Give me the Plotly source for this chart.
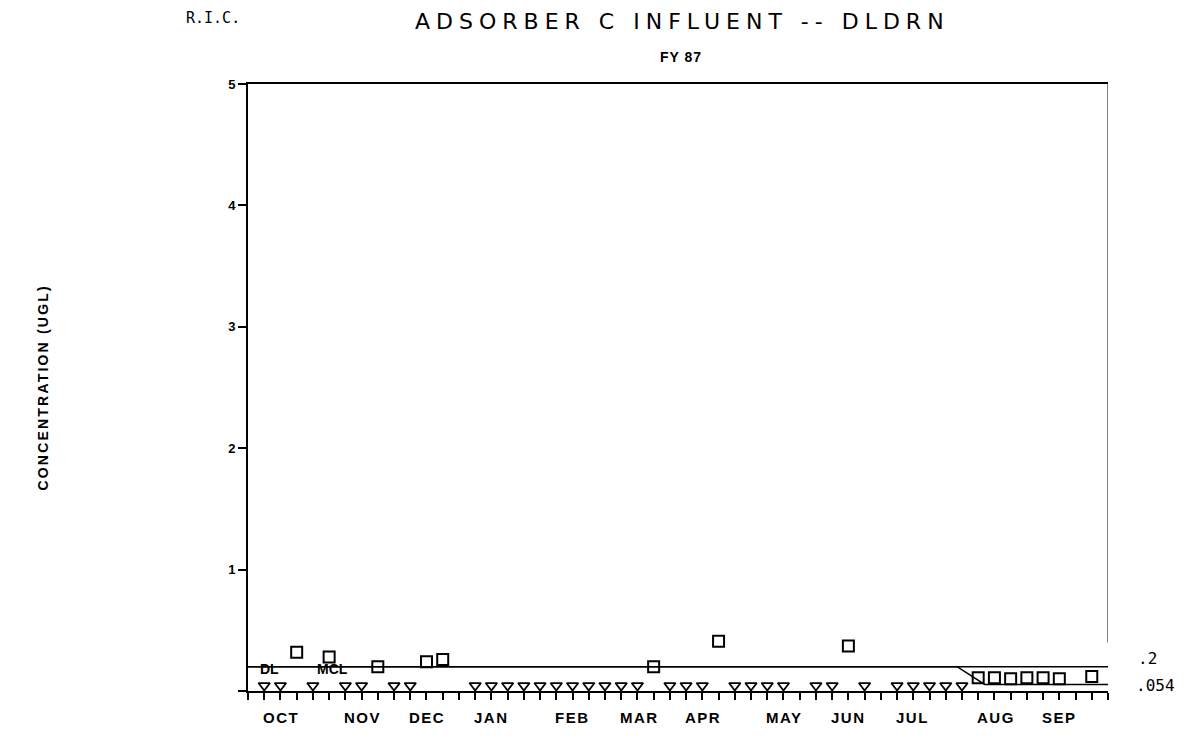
import plotly.graph_objects as go

# x axis is in weeks from the start of FY 87 (0 = start of Oct, 53 = end of Sep)
month_names = ['OCT', 'NOV', 'DEC', 'JAN', 'FEB', 'MAR', 'APR', 'MAY', 'JUN', 'JUL', 'AUG', 'SEP']
month_weeks = [1, 6, 10, 14, 19, 23, 27, 32, 36, 40, 45, 49]
all_weeks = list(range(0, 54))

# samples below detection limit (triangles)
nd_weeks = [1, 2, 4, 6, 7, 9, 10,
            14, 15, 16, 17, 18, 19, 20, 21, 22, 23, 24,
            26, 27, 28, 30, 31, 32, 33, 35, 36, 38,
            40, 41, 42, 43, 44]
nd_level = 0.045

# detected samples (squares)
det_weeks = [3, 5, 8, 11, 12, 25, 29, 37, 45, 46, 47, 48, 49, 50, 52]
det_values = [0.32, 0.28, 0.2, 0.24, 0.26, 0.2, 0.41, 0.37, 0.11, 0.11, 0.10, 0.11, 0.11, 0.10, 0.12]

# limit lines
mcl_weeks = [0, 53]
mcl_values = [0.2, 0.2]
dl_weeks = [0, 43.7, 45.4, 53]
dl_values = [0.2, 0.2, 0.054, 0.054]

ytick_vals = [0, 1, 2, 3, 4, 5]
ytick_text = ['', '1', '2', '3', '4', '5']

SANS = 'Liberation Sans, Arial, sans-serif'
MONO = 'DejaVu Sans Mono, monospace'


def spaced(text, px):
    return f'<span style="letter-spacing:{px}px">{text}</span>'


fig = go.Figure()

fig.add_trace(go.Scatter(x=mcl_weeks, y=mcl_values, mode='lines',
                         line=dict(color='black', width=1.5), name='MCL'))
fig.add_trace(go.Scatter(x=dl_weeks, y=dl_values, mode='lines',
                         line=dict(color='black', width=1.5), name='DL'))
fig.add_trace(go.Scatter(
    x=nd_weeks, y=[nd_level] * len(nd_weeks), mode='markers',
    marker=dict(symbol='triangle-down-open', size=10, color='black', line=dict(width=1.8)),
    name='ND', cliponaxis=False))
fig.add_trace(go.Scatter(
    x=det_weeks, y=det_values, mode='markers',
    marker=dict(symbol='square-open', size=11, color='black', line=dict(width=2)),
    name='Detected', cliponaxis=False))

fig.update_layout(
    width=1195, height=740,
    margin=dict(l=240, r=95, t=76, b=57),
    plot_bgcolor='white', paper_bgcolor='white',
    showlegend=False,
    xaxis=dict(
        range=[0, 53], showgrid=False, zeroline=False,
        showline=True, linecolor='black', linewidth=2, mirror=True,
        tickvals=all_weeks, ticktext=[''] * len(all_weeks),
        ticks='outside', ticklen=7, tickwidth=1.5, tickcolor='black',
    ),
    # long ticks at the first sampling week of each month
    xaxis2=dict(
        overlaying='x', anchor='y', side='bottom', range=[0, 53],
        showline=False, showgrid=False, zeroline=False,
        tickvals=month_weeks, ticktext=[''] * len(month_weeks),
        ticks='outside', ticklen=14, tickwidth=1.5, tickcolor='black',
    ),
    yaxis=dict(
        range=[0, 5], showgrid=False, zeroline=False,
        showline=True, linecolor='black', linewidth=2,
        tickvals=ytick_vals, ticktext=ytick_text,
        ticks='outside', ticklen=8, tickwidth=1.5, tickcolor='black',
        tickfont=dict(family=SANS, size=13, color='black', weight='bold'),
    ),
)

# thin right frame
fig.add_shape(type='line', xref='x', yref='y', x0=53, x1=53, y0=0.4, y1=5,
              line=dict(color='black', width=1))

# month labels, left aligned at the long ticks
for name, w in zip(month_names, month_weeks):
    fig.add_annotation(x=w, y=0, xref='x', yref='paper', text=spaced(name, 1.5), showarrow=False,
                       xanchor='left', yanchor='top', xshift=-3, yshift=-16,
                       font=dict(family=SANS, size=15, color='black', weight='bold'))

# line labels
fig.add_annotation(x=1.3, y=mcl_values[0], text='DL', showarrow=False, xanchor='center', yshift=-2,
                   font=dict(family=SANS, size=14, color='black', weight='bold'))
fig.add_annotation(x=5.2, y=mcl_values[0], text='MCL', showarrow=False, xanchor='center', yshift=-2,
                   font=dict(family=SANS, size=14, color='black', weight='bold'))
fig.add_annotation(x=53, y=mcl_values[-1], text='.2', showarrow=False, xanchor='left',
                   xshift=28, yshift=8, font=dict(family=MONO, size=16, color='black'))
fig.add_annotation(x=53, y=dl_values[-1], text='.054', showarrow=False, xanchor='left',
                   xshift=26, yshift=-1, font=dict(family=MONO, size=16, color='black'))

# titles
fig.add_annotation(xref='paper', yref='paper', x=0.505, y=1, yshift=63, borderpad=0,
                   xanchor='center', yanchor='middle',
                   text=spaced('ADSORBER C INFLUENT -- DLDRN', 6), showarrow=False,
                   font=dict(family='DejaVu Sans, sans-serif', size=22, color='black'))
fig.add_annotation(xref='paper', yref='paper', x=-0.041, y=1, yshift=66,
                   xanchor='center', yanchor='middle',
                   text='R.I.C.', showarrow=False,
                   font=dict(family=MONO, size=15, color='black'))
fig.add_annotation(xref='paper', yref='paper', x=0.503, y=1, yshift=27,
                   xanchor='center', yanchor='middle',
                   text=spaced('FY 87', 1), showarrow=False,
                   font=dict(family=SANS, size=14, color='black', weight='bold'))
fig.add_annotation(xref='paper', yref='paper', x=-0.2395, y=0.5, textangle=-90,
                   xanchor='center', yanchor='middle',
                   text=spaced('CONCENTRATION (UGL)', 2.2), showarrow=False,
                   font=dict(family=SANS, size=14, color='black', weight='bold'))

fig.write_html("out.html")
